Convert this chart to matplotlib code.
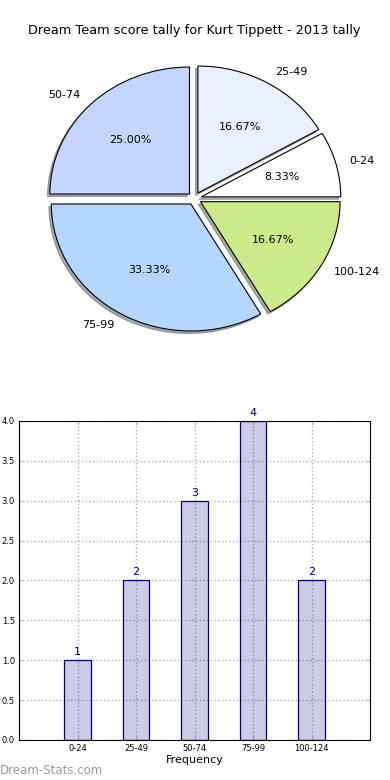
import matplotlib
matplotlib.use("Agg")
import matplotlib.pyplot as plt
import numpy as np

# data
bins = ["0-24", "25-49", "50-74", "75-99", "100-124"]
counts = [1, 2, 3, 4, 2]
pie_colors = ["#ffffff", "#eaf0ff", "#c4d6ff", "#b4d6ff", "#cdea8a"]
title = "Dream Team score tally for Kurt Tippett - 2013 tally"

fig = plt.figure(figsize=(3.9, 7.8), dpi=100)

# pie (stretched like the old non-equal-aspect pie)
ax1 = fig.add_axes([0.051, 0.542, 0.895, 0.407])
wedges, texts, autotexts = ax1.pie(counts, labels=bins, colors=pie_colors,
                                   explode=[0.05] * len(counts), autopct="%1.2f%%",
                                   shadow=dict(ox=-0.012, oy=-0.014, shade=0.6),
                                   startangle=0,
                                   wedgeprops=dict(edgecolor="black", linewidth=0.8),
                                   textprops=dict(fontsize=8))
ax1.set_aspect("auto")
ax1.set_xlim(-1.25, 1.25)
ax1.set_ylim(-1.25, 1.25)
ax1.set_title(title, fontsize=9.3, pad=4)

# bar chart
ax2 = fig.add_axes([0.049, 0.0513, 0.9, 0.4090])
x = np.arange(len(bins))
ax2.bar(x, counts, width=0.45, color=(0, 0, 0.5, 0.2), edgecolor="navy",
        linewidth=0.9, zorder=1)
for xi, c in zip(x, counts):
    ax2.text(xi, c + 0.04, str(c), ha="center", va="bottom", color="navy", fontsize=8)
ax2.set_xlim(-1, 5)
ax2.set_ylim(0, 4)
ax2.set_xticks(x)
ax2.set_xticklabels(bins, fontsize=6)
ax2.set_yticks(np.arange(0, 4.01, 0.5))
ax2.set_yticklabels([f"{v:.1f}" for v in np.arange(0, 4.01, 0.5)], fontsize=6)
ax2.tick_params(direction="in", top=True, right=True, length=3, color="#bbbbbb", pad=3)
ax2.grid(True, linestyle=":", color="#b0b0b0", linewidth=1.0, zorder=0)
ax2.set_axisbelow(True)
ax2.set_xlabel("Frequency", fontsize=8, labelpad=1)

fig.text(0.0, 0.004, "Dream-Stats.com", fontsize=8.5, color="#999999",
         ha="left", va="bottom", fontweight="medium")

fig.savefig("out.png", dpi=100)
